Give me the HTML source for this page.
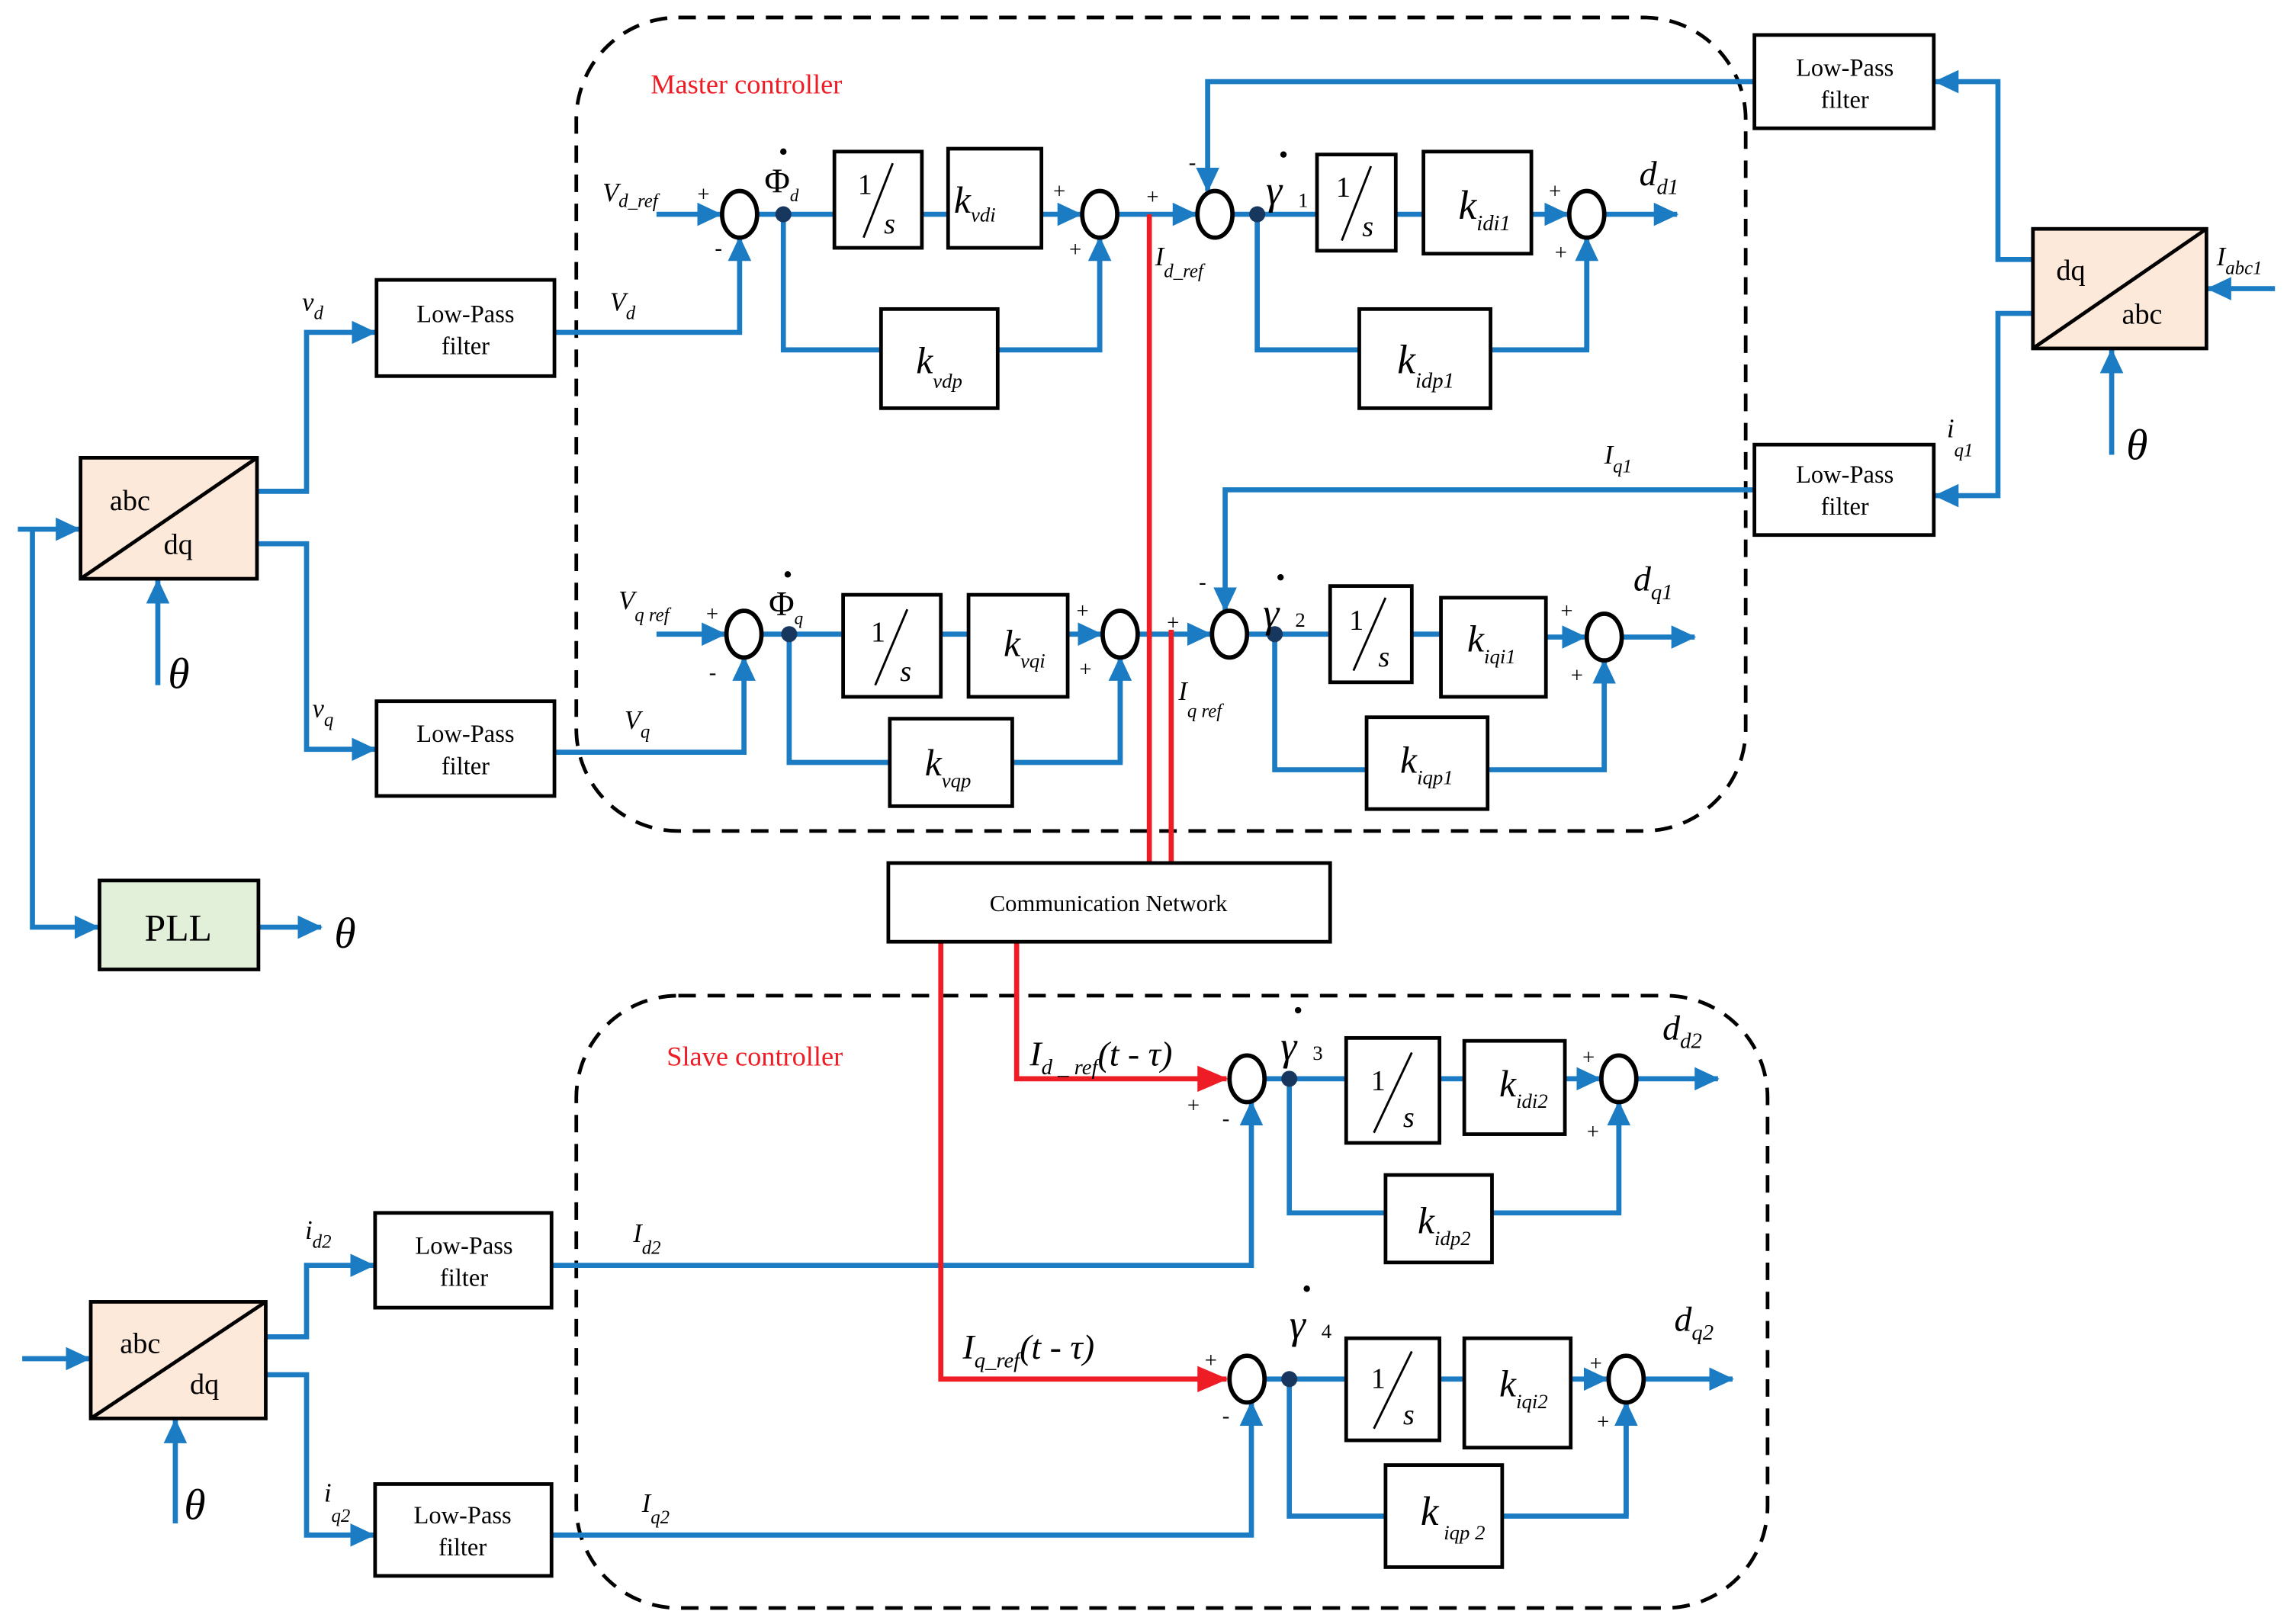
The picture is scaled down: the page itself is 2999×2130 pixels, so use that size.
<!DOCTYPE html>
<html><head><meta charset="utf-8"><style>
html,body{margin:0;padding:0;background:#fff;}
svg{display:block;}
text{font-family:"Liberation Serif","DejaVu Serif",serif;fill:#000;}
</style></head><body>
<svg width="2999" height="2130" viewBox="0 0 1568 1114" xmlns="http://www.w3.org/2000/svg" font-family="Liberation Serif, serif">
<defs>
<marker id="b" markerUnits="userSpaceOnUse" markerWidth="18" markerHeight="16" refX="16" refY="8" orient="auto"><path d="M0,0 L17,8 L0,16 Z" fill="#1b7cc4"/></marker>
<marker id="r" markerUnits="userSpaceOnUse" markerWidth="22" markerHeight="18" refX="20" refY="9" orient="auto"><path d="M0,0 L21,9 L0,18 Z" fill="#ee1c24"/></marker>
</defs>
<rect width="1568" height="1114" fill="#fff"/>
<rect x="395" y="12" width="802" height="558" rx="70" fill="none" stroke="#000" stroke-width="2.5" stroke-dasharray="12,8"/>
<rect x="395" y="683" width="817" height="420" rx="70" fill="none" stroke="#000" stroke-width="2.5" stroke-dasharray="12,8"/>
<text x="446" y="64" font-size="19" style="fill:#ee1c24">Master controller</text>
<text x="457" y="731" font-size="19" style="fill:#ee1c24">Slave controller</text>

<g fill="none" stroke="#1b7cc4" stroke-width="3.5">
<path d="M12,363 H54" marker-end="url(#b)"/>
<path d="M22,363 V636 H67" marker-end="url(#b)"/>
<path d="M108,470 V398" marker-end="url(#b)"/>
<path d="M177,636 H220" marker-end="url(#b)"/>
<path d="M176,337 H210 V228 H257" marker-end="url(#b)"/>
<path d="M176,373 H210 V514 H257" marker-end="url(#b)"/>
<path d="M380,228 H507 V163" marker-end="url(#b)"/>
<path d="M450,147 H494" marker-end="url(#b)"/>
<path d="M519,147 H572 M632,147 H650"/>
<path d="M714,147 H741" marker-end="url(#b)"/>
<path d="M537,147 V240 H604 M684,240 H754 V163"/>
<path d="M754,240 V163" marker-end="url(#b)"/>
<path d="M766,147 H820" marker-end="url(#b)"/>
<path d="M845,147 H903 M957,147 H976"/>
<path d="M1050,147 H1075" marker-end="url(#b)"/>
<path d="M862,147 V240 H932 M1022,240 H1088 V163"/>
<path d="M1088,240 V163" marker-end="url(#b)"/>
<path d="M1100,147 H1150" marker-end="url(#b)"/>
<path d="M1394,178 H1370 V56 H1327" marker-end="url(#b)"/>
<path d="M1203,56 H828 V131" marker-end="url(#b)"/>
<path d="M1394,215 H1370 V340 H1327" marker-end="url(#b)"/>
<path d="M1203,336 H840 V419" marker-end="url(#b)"/>
<path d="M1560,198 H1514" marker-end="url(#b)"/>
<path d="M1448,312 V240" marker-end="url(#b)"/>
<path d="M450,435 H497" marker-end="url(#b)"/>
<path d="M380,516 H510 V451" marker-end="url(#b)"/>
<path d="M522,435 H578 M645,435 H664"/>
<path d="M732,435 H755" marker-end="url(#b)"/>
<path d="M541,435 V523 H610 M694,523 H768 V451"/>
<path d="M768,523 V451" marker-end="url(#b)"/>
<path d="M780,435 H830" marker-end="url(#b)"/>
<path d="M855,435 H912 M968,435 H988"/>
<path d="M1060,437 H1087" marker-end="url(#b)"/>
<path d="M874,435 V528 H937 M1020,528 H1100 V453"/>
<path d="M1100,528 V453" marker-end="url(#b)"/>
<path d="M1112,437 H1162" marker-end="url(#b)"/>
<path d="M15,932 H61" marker-end="url(#b)"/>
<path d="M120,1045 V974" marker-end="url(#b)"/>
<path d="M182,917 H210 V868 H256" marker-end="url(#b)"/>
<path d="M182,943 H210 V1053 H256" marker-end="url(#b)"/>
<path d="M378,868 H858 V756" marker-end="url(#b)"/>
<path d="M378,1053 H858 V962" marker-end="url(#b)"/>
<path d="M867,740 H923 M987,740 H1004"/>
<path d="M1073,740 H1097" marker-end="url(#b)"/>
<path d="M884,740 V832 H950 M1023,832 H1110 V756"/>
<path d="M1110,832 V756" marker-end="url(#b)"/>
<path d="M1122,740 H1178" marker-end="url(#b)"/>
<path d="M867,946 H923 M987,946 H1004"/>
<path d="M1077,946 H1102" marker-end="url(#b)"/>
<path d="M884,946 V1040 H950 M1030,1040 H1115 V962"/>
<path d="M1115,1040 V962" marker-end="url(#b)"/>
<path d="M1127,946 H1188" marker-end="url(#b)"/>
</g>

<g fill="none" stroke="#ee1c24" stroke-width="3.5">
<path d="M788,147 V592"/>
<path d="M803,432 V592"/>
<path d="M697,646 V740 H841" marker-end="url(#r)"/>
<path d="M645,646 V946 H841" marker-end="url(#r)"/>
</g>

<g stroke="#000" stroke-width="2.5">
<rect x="55" y="314" width="121" height="83" fill="#fde9d9"/>
<line x1="55" y1="397" x2="176" y2="314"/>
<rect x="62" y="893" width="120" height="80" fill="#fde9d9"/>
<line x1="62" y1="973" x2="182" y2="893"/>
<rect x="1394" y="157" width="119" height="82" fill="#fde9d9"/>
<line x1="1394" y1="239" x2="1513" y2="157"/>
<rect x="68" y="604" width="109" height="61" fill="#e2efd9"/>
<g fill="#fff">
<rect x="258" y="192" width="122" height="66"/>
<rect x="258" y="481" width="122" height="65"/>
<rect x="1203" y="24" width="123" height="64"/>
<rect x="1203" y="305" width="123" height="62"/>
<rect x="257" y="832" width="121" height="65"/>
<rect x="257" y="1018" width="121" height="63"/>
<rect x="609" y="592" width="303" height="54"/>
<rect x="572" y="104" width="60" height="66"/>
<rect x="650" y="102" width="64" height="68"/>
<rect x="604" y="212" width="80" height="68"/>
<rect x="903" y="106" width="54" height="66"/>
<rect x="976" y="104" width="74" height="70"/>
<rect x="932" y="212" width="90" height="68"/>
<rect x="578" y="408" width="67" height="70"/>
<rect x="664" y="408" width="68" height="70"/>
<rect x="610" y="493" width="84" height="60"/>
<rect x="912" y="402" width="56" height="66"/>
<rect x="988" y="410" width="72" height="68"/>
<rect x="937" y="492" width="83" height="63"/>
<rect x="923" y="712" width="64" height="72"/>
<rect x="1004" y="714" width="69" height="64"/>
<rect x="950" y="806" width="73" height="60"/>
<rect x="923" y="918" width="64" height="70"/>
<rect x="1004" y="918" width="73" height="75"/>
<rect x="950" y="1005" width="80" height="70"/>
</g>
<g fill="#fff" stroke-width="3">
<ellipse cx="507" cy="147" rx="12" ry="16"/>
<ellipse cx="754" cy="147" rx="12" ry="16"/>
<ellipse cx="833" cy="147" rx="12" ry="16"/>
<ellipse cx="1088" cy="147" rx="12" ry="16"/>
<ellipse cx="510" cy="435" rx="12" ry="16"/>
<ellipse cx="768" cy="435" rx="12" ry="16"/>
<ellipse cx="843" cy="435" rx="12" ry="16"/>
<ellipse cx="1100" cy="437" rx="12" ry="16"/>
<ellipse cx="855" cy="740" rx="12" ry="16"/>
<ellipse cx="1110" cy="740" rx="12" ry="16"/>
<ellipse cx="855" cy="946" rx="12" ry="16"/>
<ellipse cx="1115" cy="946" rx="12" ry="16"/>
</g>
</g>
<g fill="#17375e">
<circle cx="537" cy="147" r="5.5"/><circle cx="862" cy="147" r="5.5"/>
<circle cx="541" cy="435" r="5.5"/><circle cx="874" cy="435" r="5.5"/>
<circle cx="884" cy="740" r="5.5"/><circle cx="884" cy="946" r="5.5"/>
</g>
<!-- 1/s -->
<g stroke="#000" stroke-width="1.5">
<line x1="592" y1="163" x2="612" y2="112"/>
<line x1="920" y1="165" x2="940" y2="114"/>
<line x1="600" y1="470" x2="622" y2="418"/>
<line x1="928" y1="460" x2="950" y2="410"/>
<line x1="942" y1="777" x2="968" y2="722"/>
<line x1="942" y1="980" x2="968" y2="927"/>
</g>
<g font-size="20">
<text x="588" y="133">1</text><text x="606" y="160" font-style="italic">s</text>
<text x="916" y="135">1</text><text x="934" y="162" font-style="italic">s</text>
<text x="597" y="440">1</text><text x="617" y="467" font-style="italic">s</text>
<text x="925" y="432">1</text><text x="945" y="457" font-style="italic">s</text>
<text x="940" y="748">1</text><text x="962" y="773" font-style="italic">s</text>
<text x="940" y="952">1</text><text x="962" y="977" font-style="italic">s</text>
</g>

<g font-size="17" text-anchor="middle">
<text x="319" y="221">Low-Pass</text><text x="319" y="243">filter</text>
<text x="319" y="509">Low-Pass</text><text x="319" y="531">filter</text>
<text x="1265" y="52">Low-Pass</text><text x="1265" y="74">filter</text>
<text x="1265" y="331">Low-Pass</text><text x="1265" y="353">filter</text>
<text x="318" y="860">Low-Pass</text><text x="318" y="882">filter</text>
<text x="317" y="1045">Low-Pass</text><text x="317" y="1067">filter</text>
<text x="760" y="625" font-size="16">Communication Network</text>
<text x="122" y="645" font-size="26">PLL</text>
</g>
<g font-size="20">
<text x="75" y="350">abc</text><text x="112" y="380">dq</text>
<text x="82" y="928">abc</text><text x="130" y="956">dq</text>
<text x="1410" y="192">dq</text><text x="1455" y="222">abc</text>
</g>
<g font-style="italic">
<text x="654" y="146" font-size="26">k<tspan font-size="14" dy="6">vdi</tspan></text>
<text x="628" y="256" font-size="26">k<tspan font-size="14" dy="10">vdp</tspan></text>
<text x="1000" y="150" font-size="28">k<tspan font-size="15" dy="8">idi1</tspan></text>
<text x="958" y="256" font-size="28">k<tspan font-size="15" dy="10">idp1</tspan></text>
<text x="688" y="450" font-size="26">k<tspan font-size="14" dy="8">vqi</tspan></text>
<text x="634" y="532" font-size="26">k<tspan font-size="14" dy="8">vqp</tspan></text>
<text x="1006" y="447" font-size="26">k<tspan font-size="14" dy="8">iqi1</tspan></text>
<text x="960" y="530" font-size="26">k<tspan font-size="14" dy="8">iqp1</tspan></text>
<text x="1028" y="752" font-size="26">k<tspan font-size="14" dy="8">idi2</tspan></text>
<text x="972" y="846" font-size="26">k<tspan font-size="14" dy="8">idp2</tspan></text>
<text x="1028" y="958" font-size="26">k<tspan font-size="14" dy="8">iqi2</tspan></text>
<text x="974" y="1046" font-size="28">k<tspan font-size="14" dy="10"> iqp 2</tspan></text>
<text x="207" y="213" font-size="18">v<tspan font-size="13" dy="6">d</tspan></text>
<text x="214" y="492" font-size="18">v<tspan font-size="13" dy="6">q</tspan></text>
<text x="418" y="213" font-size="18">V<tspan font-size="13" dy="6">d</tspan></text>
<text x="428" y="500" font-size="18">V<tspan font-size="13" dy="6">q</tspan></text>
<text x="413" y="138" font-size="18">V<tspan font-size="13" dy="4">d_ref</tspan></text>
<text x="424" y="418" font-size="18">V<tspan font-size="13" dy="8">q  ref</tspan></text>
<text x="792" y="182" font-size="18">I<tspan font-size="13" dy="8">d_ref</tspan></text>
<text x="808" y="480" font-size="18">I<tspan font-size="13" dy="12">q  ref</tspan></text>
<text x="1124" y="127" font-size="24">d<tspan font-size="15" dy="6">d1</tspan></text>
<text x="1120" y="405" font-size="24">d<tspan font-size="15" dy="6">q1</tspan></text>
<text x="1140" y="713" font-size="24">d<tspan font-size="15" dy="6">d2</tspan></text>
<text x="1148" y="913" font-size="24">d<tspan font-size="15" dy="6">q2</tspan></text>
<text x="1100" y="318" font-size="18">I<tspan font-size="13" dy="6">q1</tspan></text>
<text x="1335" y="300" font-size="18">i<tspan font-size="13" dy="13">q1</tspan></text>
<text x="1520" y="182" font-size="18">I<tspan font-size="13" dy="6">abc1</tspan></text>
<text x="209" y="850" font-size="18">i<tspan font-size="13" dy="6">d2</tspan></text>
<text x="222" y="1030" font-size="18">i<tspan font-size="13" dy="14">q2</tspan></text>
<text x="434" y="852" font-size="18">I<tspan font-size="13" dy="8">d2</tspan></text>
<text x="440" y="1037" font-size="18">I<tspan font-size="13" dy="8">q2</tspan></text>
<text x="706" y="731" font-size="24">I<tspan font-size="15" dy="6">d _ ref</tspan><tspan font-size="24" dy="-6">(t - τ)</tspan></text>
<text x="660" y="932" font-size="24">I<tspan font-size="15" dy="6">q_ref</tspan><tspan font-size="24" dy="-6">(t - τ)</tspan></text>
<text x="115" y="472" font-size="30">θ</text>
<text x="229" y="650" font-size="30">θ</text>
<text x="1458" y="315" font-size="30">θ</text>
<text x="126" y="1042" font-size="30">θ</text>
<text x="868" y="140" font-size="28">γ</text><text x="890" y="142" font-size="14" font-style="normal">1</text>
<text x="866" y="430" font-size="28">γ</text><text x="888" y="430" font-size="14" font-style="normal">2</text>
<text x="878" y="727" font-size="28">γ</text><text x="900" y="727" font-size="14" font-style="normal">3</text>
<text x="884" y="918" font-size="28">γ</text><text x="906" y="918" font-size="14" font-style="normal">4</text>
</g>
<g fill="#000">
<circle cx="880" cy="106" r="2.2"/><circle cx="878" cy="396" r="2.2"/>
<circle cx="890" cy="693" r="2.2"/><circle cx="896" cy="884" r="2.2"/>
<circle cx="537" cy="104" r="2.2"/><circle cx="540" cy="394" r="2.2"/>
</g>
<text x="524" y="132" font-size="24">Φ<tspan font-size="12" font-style="italic" dy="6">d</tspan></text>
<text x="527" y="422" font-size="24">Φ<tspan font-size="12" font-style="italic" dy="6">q</tspan></text>
<g font-size="15">
<text x="478" y="138">+</text><text x="490" y="175">-</text>
<text x="722" y="136">+</text><text x="733" y="176">+</text>
<text x="786" y="140">+</text><text x="815" y="116">-</text>
<text x="1062" y="136">+</text><text x="1066" y="178">+</text>
<text x="484" y="426">+</text><text x="486" y="466">-</text>
<text x="738" y="424">+</text><text x="740" y="464">+</text>
<text x="800" y="432">+</text><text x="822" y="404">-</text>
<text x="1070" y="424">+</text><text x="1077" y="468">+</text>
<text x="814" y="763">+</text><text x="838" y="772">-</text>
<text x="1085" y="730">+</text><text x="1088" y="781">+</text>
<text x="826" y="938">+</text><text x="838" y="976">-</text>
<text x="1090" y="940">+</text><text x="1095" y="980">+</text>
</g>
</svg>
</body></html>
